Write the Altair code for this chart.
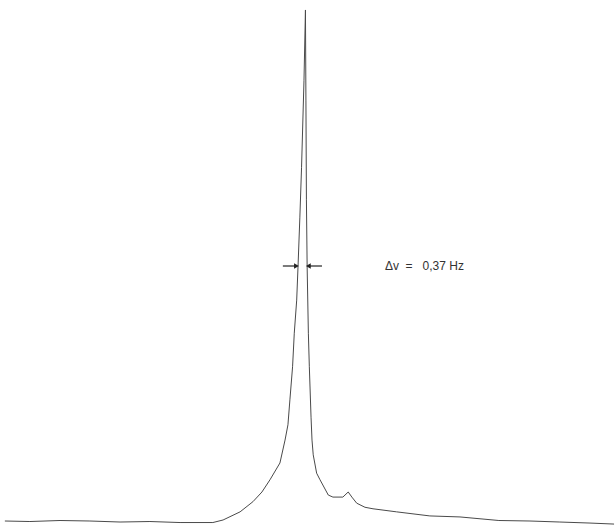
import altair as alt
import pandas as pd

# Frequency offset from line centre (Hz) and normalised intensity
freq = [-12.35, -11.32, -10.08, -8.85, -7.61, -6.38, -5.14, -3.79, -3.37, -2.67, -2.14,
        -1.77, -1.44, -1.03, -0.82, -0.70, -0.62, -0.51, -0.44, -0.34, -0.28, -0.21,
        -0.14, -0.04, 0.02, 0.04, 0.06, 0.09, 0.14, 0.18, 0.25, 0.29, 0.34, 0.48, 0.62,
        0.96, 1.15, 1.56, 1.78, 1.93, 2.13, 2.47, 2.80, 3.77, 5.14, 6.38, 7.98, 9.26,
        10.49, 11.73, 12.72]
intensity = [0.000, -0.001, 0.001, 0.000, -0.002, -0.001, -0.003, -0.003, 0.002, 0.018, 0.038,
             0.057, 0.081, 0.114, 0.159, 0.189, 0.238, 0.303, 0.369, 0.434, 0.507, 0.597,
             0.695, 0.866, 1.004, 0.827, 0.631, 0.499, 0.369, 0.303, 0.204, 0.159, 0.130, 0.094, 0.081,
             0.051, 0.047, 0.047, 0.057, 0.047, 0.035, 0.027, 0.024, 0.018, 0.010, 0.008, 0.001, 0.000,
             -0.002, -0.004, -0.006]

# Half-width annotation
left_arrow = [-0.91, -0.35]   # shaft start, head position (points right)
right_arrow = [0.70, 0.14]    # shaft start, head position (points left)
half_level = 0.501
label = ["Δv\u00a0\u00a0=\u00a0\u00a0\u00a00,37\u00a0Hz"]
label_x = [3.29]

xs = alt.Scale(domain=[-12.55, 12.80], nice=False, zero=False)
ys = alt.Scale(domain=[-0.0098, 1.0236], nice=False, zero=False)

spec = pd.DataFrame({"f": freq, "I": intensity})
la = pd.DataFrame({"x1": [left_arrow[0]], "x2": [left_arrow[1]], "y": [half_level]})
ra = pd.DataFrame({"x1": [right_arrow[0]], "x2": [right_arrow[1]], "y": [half_level]})
text = pd.DataFrame({"x": label_x, "y": [half_level], "t": label})

X = lambda f: alt.X(f, scale=xs, axis=None)
Y = lambda f: alt.Y(f, scale=ys, axis=None)

line = alt.Chart(spec).mark_line(color="#4a4a4a", strokeWidth=1).encode(x=X("f:Q"), y=Y("I:Q"))

def arrow(df, shape):
    shaft = alt.Chart(df).mark_rule(color="#222", strokeWidth=1.2).encode(
        x=X("x1:Q"), x2="x2:Q", y=Y("y:Q"))
    head = alt.Chart(df).mark_point(shape=shape, filled=True, color="#222", size=30,
                                    opacity=1).encode(x=X("x2:Q"), y=Y("y:Q"))
    return shaft + head

label_mark = alt.Chart(text).mark_text(align="left", baseline="middle", fontSize=12,
                                       font="Liberation Sans", color="#333").encode(
    x=X("x:Q"), y=Y("y:Q"), text="t:N")

chart = (line + arrow(la, "triangle-right") + arrow(ra, "triangle-left") + label_mark).properties(
    width=616, height=526, padding=0, autosize=alt.AutoSizeParams(type="none"),
    background="white",
).configure_view(stroke=None)

chart.save("out.html", embed_options={"renderer": "svg", "actions": False})
